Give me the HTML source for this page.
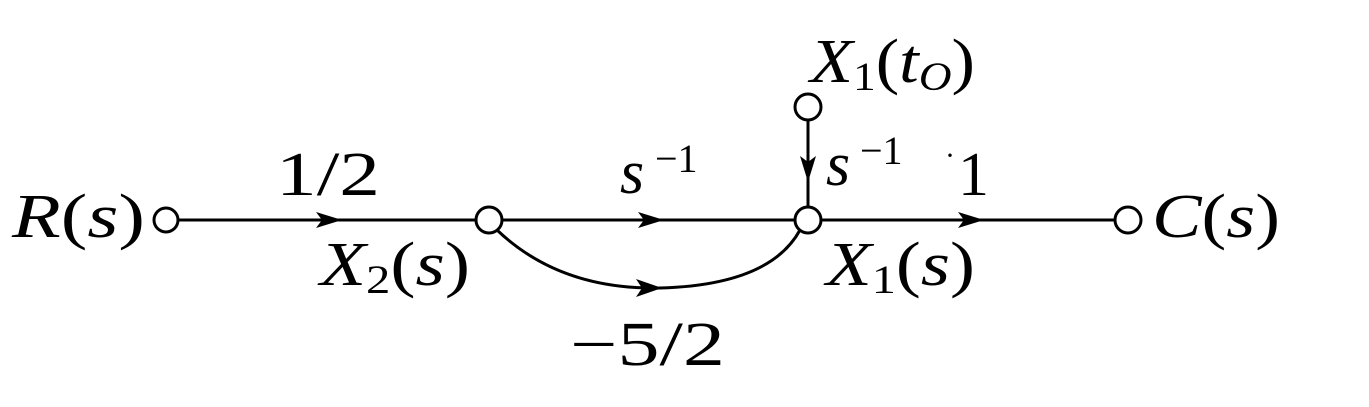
<!DOCTYPE html>
<html><head><meta charset="utf-8"><style>
html,body{margin:0;padding:0;background:#fff;}
svg{display:block;}
svg text{font-family:"Liberation Serif","DejaVu Serif",serif;}
</style></head><body>
<svg width="1369" height="407" viewBox="0 0 1369 407" xmlns="http://www.w3.org/2000/svg">
<defs>
<marker id="a" markerWidth="30" markerHeight="20" refX="26" refY="8" orient="auto" markerUnits="userSpaceOnUse">
<path d="M0,0 L26,8 L0,16 L6,8 Z" fill="#000"/>
</marker>
</defs>
<g stroke="#000" stroke-width="3" fill="none">
<line x1="178" y1="220" x2="476" y2="220"/>
<line x1="178" y1="220" x2="342" y2="220" marker-end="url(#a)"/>
<line x1="502" y1="220" x2="795" y2="220"/>
<line x1="502" y1="220" x2="664" y2="220" marker-end="url(#a)"/>
<line x1="821" y1="220" x2="1115" y2="220"/>
<line x1="821" y1="220" x2="984" y2="220" marker-end="url(#a)"/>
<line x1="808" y1="120" x2="808" y2="207"/>
<line x1="808" y1="120" x2="808" y2="182" marker-end="url(#a)"/>
<path d="M497,230 Q560,290 660,288 Q770,285 800,230"/>
</g>
<path d="M636,279 L662,288 L636,297 L642,288 Z" fill="#000"/>
<g stroke="#000" stroke-width="3" fill="#fff">
<circle cx="166" cy="220" r="12"/>
<circle cx="489" cy="220" r="13"/>
<circle cx="808" cy="220" r="13"/>
<circle cx="808" cy="107" r="13"/>
<circle cx="1128" cy="220" r="13"/>
</g>
<g fill="#000">
<text x="12" y="237" font-size="62" textLength="133" lengthAdjust="spacingAndGlyphs"><tspan font-style="italic">R</tspan>(<tspan font-style="italic">s</tspan>)</text>
<text x="276" y="195" font-size="62" textLength="104" lengthAdjust="spacingAndGlyphs">1/2</text>
<text x="320" y="285" font-size="62" textLength="150" lengthAdjust="spacingAndGlyphs"><tspan font-style="italic">X</tspan><tspan font-size="40" dy="8">2</tspan><tspan dy="-8">(</tspan><tspan font-style="italic">s</tspan>)</text>
<text x="620" y="193" font-size="62" font-style="italic">s</text>
<text x="655" y="172" font-size="40">−1</text>
<text x="570" y="365" font-size="62" textLength="155" lengthAdjust="spacingAndGlyphs">−5/2</text>
<text x="810" y="82" font-size="62" textLength="165" lengthAdjust="spacingAndGlyphs"><tspan font-style="italic">X</tspan><tspan font-size="40" dy="8">1</tspan><tspan dy="-8">(</tspan><tspan font-style="italic">t</tspan><tspan font-size="40" dy="8" font-style="italic">O</tspan><tspan dy="-8">)</tspan></text>
<text x="826" y="185" font-size="62" font-style="italic">s</text>
<text x="860" y="164" font-size="40">−1</text>
<text x="945" y="165" font-size="30">·</text>
<text x="958" y="195" font-size="62">1</text>
<text x="826" y="285" font-size="62" textLength="149" lengthAdjust="spacingAndGlyphs"><tspan font-style="italic">X</tspan><tspan font-size="40" dy="8">1</tspan><tspan dy="-8">(</tspan><tspan font-style="italic">s</tspan>)</text>
<text x="1152" y="237" font-size="62" textLength="128" lengthAdjust="spacingAndGlyphs"><tspan font-style="italic">C</tspan>(<tspan font-style="italic">s</tspan>)</text>
</g>
</svg>
</body></html>
